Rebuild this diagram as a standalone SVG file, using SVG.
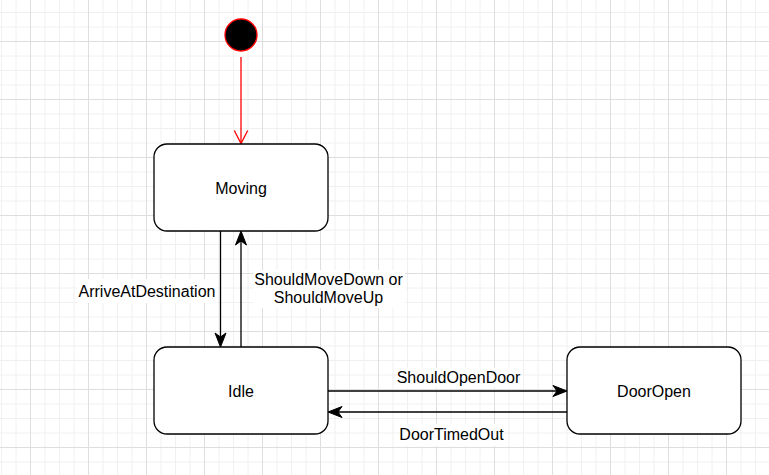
<svg xmlns="http://www.w3.org/2000/svg" width="769" height="475" viewBox="0 0 769 475">
  <style>
    .node { fill: #ffffff; stroke: #000000; stroke-width: 1.3; }
    .lbl { font-family: "Liberation Sans", Arial, sans-serif; font-size: 16px; fill: #000000; text-anchor: middle; }
    .edge { stroke: #000000; stroke-width: 1.3; fill: none; }
    .lblbg { fill: #ffffff; }
  </style>
  <defs>
    <pattern id="grid" x="30" y="41" width="58" height="58" patternUnits="userSpaceOnUse">
      <path d="M15,0 V58 M29.5,0 V58 M44,0 V58 M0,15 H58 M0,29.5 H58 M0,44 H58" stroke="#f0f0f0" stroke-width="1" fill="none"/>
      <path d="M0.5,0 V58 M0,0.5 H58" stroke="#dedede" stroke-width="1" fill="none"/>
    </pattern>
    <marker id="arrow" viewBox="-15 -7 16 14" markerWidth="16" markerHeight="14" refX="-10" refY="0" orient="auto" markerUnits="userSpaceOnUse">
      <path d="M0,0 L-14,-5.5 L-10,0 L-14,5.5 Z" fill="#000000" stroke="#000000" stroke-width="1"/>
    </marker>
    <marker id="openRed" viewBox="-15 -8 16 16" markerWidth="16" markerHeight="16" refX="0" refY="0" orient="auto" markerUnits="userSpaceOnUse">
      <path d="M-13,-6.7 L0,0 L-13,6.7" fill="none" stroke="#ff0000" stroke-width="1.3"/>
    </marker>
  </defs>
  <rect x="0" y="0" width="769" height="475" fill="#ffffff"/>
  <rect x="0" y="0" width="769" height="475" fill="url(#grid)"/>

  <g id="connectors">
    <line class="edge" x1="241" y1="57" x2="241" y2="143.5" stroke="#ff0000" style="stroke:#ff0000" marker-end="url(#openRed)"/>
    <line class="edge" x1="220.5" y1="231" x2="220.5" y2="337" marker-end="url(#arrow)"/>
    <line class="edge" x1="241" y1="347" x2="241" y2="241" marker-end="url(#arrow)"/>
    <line class="edge" x1="328" y1="391" x2="557" y2="391" marker-end="url(#arrow)"/>
    <line class="edge" x1="567" y1="412" x2="338" y2="412" marker-end="url(#arrow)"/>
    <g id="edge-labels">
      <rect class="lblbg" x="77" y="279" width="140" height="24"/>
      <text class="lbl" x="147" y="297">ArriveAtDestination</text>
      <rect class="lblbg" x="253" y="270" width="152" height="38"/>
      <text class="lbl" x="328.5" y="285">ShouldMoveDown or</text>
      <text class="lbl" x="328.5" y="303">ShouldMoveUp</text>
      <rect class="lblbg" x="397" y="368" width="123" height="20"/>
      <text class="lbl" x="458.5" y="383">ShouldOpenDoor</text>
      <rect class="lblbg" x="400" y="424" width="104" height="22"/>
      <text class="lbl" x="451.5" y="440">DoorTimedOut</text>
    </g>
  </g>

  <g id="start">
    <circle cx="241" cy="35" r="16" fill="#000000" stroke="#ff0000" stroke-width="1.3"/>
  </g>
  <g id="moving">
    <rect class="node" x="154" y="144" width="174" height="87" rx="13" ry="13"/>
    <text class="lbl" x="241" y="194">Moving</text>
  </g>
  <g id="idle">
    <rect class="node" x="154" y="347" width="174" height="87" rx="13" ry="13"/>
    <text class="lbl" x="241" y="397">Idle</text>
  </g>
  <g id="dooropen">
    <rect class="node" x="567" y="347" width="174" height="87" rx="13" ry="13"/>
    <text class="lbl" x="654" y="397">DoorOpen</text>
  </g>
</svg>
